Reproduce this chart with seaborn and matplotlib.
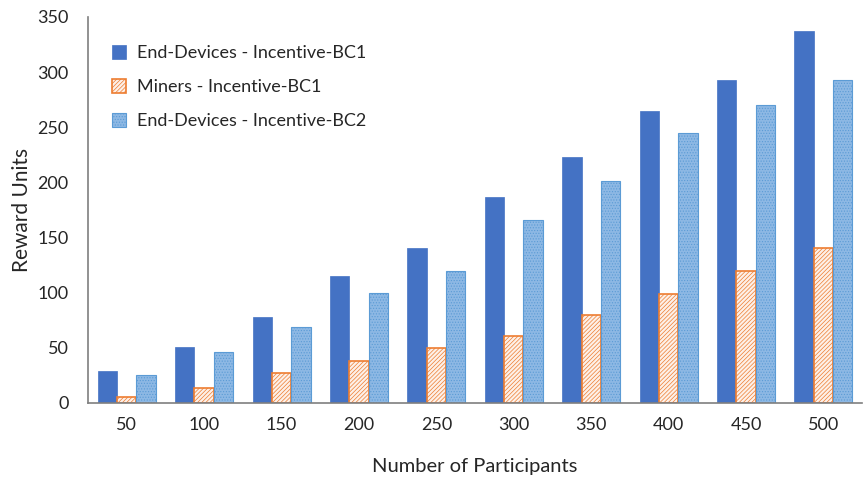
import matplotlib
matplotlib.use("Agg")
import matplotlib.pyplot as plt
import pandas as pd
import seaborn as sns

participants = [50, 100, 150, 200, 250, 300, 350, 400, 450, 500]
end_devices_bc1 = [29, 51, 78, 115, 140, 187, 223, 265, 293, 337]
miners_bc1 = [5, 13, 27, 38, 50, 61, 80, 99, 120, 140]
end_devices_bc2 = [25, 46, 69, 100, 120, 166, 201, 245, 270, 293]
series_names = ["End-Devices - Incentive-BC1", "Miners - Incentive-BC1",
                "End-Devices - Incentive-BC2"]

df = pd.DataFrame({
    "participants": participants * 3,
    "reward": end_devices_bc1 + miners_bc1 + end_devices_bc2,
    "series": [n for n in series_names for _ in participants],
})

sns.set_style("white")
plt.rcParams["font.family"] = ["Lato", "DejaVu Sans"]
plt.rcParams["hatch.linewidth"] = 0.5

fig = plt.figure(figsize=(8.63, 4.83), dpi=100)
ax = fig.add_axes([0.102, 0.166, 0.897, 0.799])

sns.barplot(data=df, x="participants", y="reward", hue="series",
            hue_order=series_names, width=0.75, gap=0, ax=ax,
            palette=["#4472C4", "#ED7D31", "#5B9BD5"])

# bar styles: solid, orange texture, dotted blue
styles = [
    dict(facecolor="#4472C4", edgecolor="#4472C4", hatch=None, lw=0.5),
    dict(facecolor="#FDF0E8", edgecolor="#ED7D31", hatch="////////", lw=1.2),
    dict(facecolor="#8DB8E4", edgecolor="#5B9BD5", hatch="......", lw=0.8),
]
for cont, st in zip(ax.containers, styles):
    for bar in cont:
        bar.set_facecolor(st["facecolor"])
        bar.set_edgecolor(st["edgecolor"])
        bar.set_hatch(st["hatch"])
        bar.set_linewidth(st["lw"])

ax.set_ylim(0, 350)
ax.set_yticks(range(0, 351, 50))
ax.set_xlim(-0.5, 9.5)
ax.set_xlabel("Number of Participants", fontsize=14.5, labelpad=18)
ax.set_ylabel("Reward Units", fontsize=15, labelpad=4)
ax.tick_params(axis="both", labelsize=13, length=0)
ax.tick_params(axis="x", pad=10)
ax.tick_params(axis="y", pad=14)

for side in ["top", "right"]:
    ax.spines[side].set_visible(False)
for side in ["left", "bottom"]:
    ax.spines[side].set_color("#7f7f7f")
    ax.spines[side].set_linewidth(1.2)

handles = [cont.patches[0] for cont in ax.containers]
ax.legend(handles, series_names, loc="upper left", frameon=False,
          fontsize=13, handlelength=0.8, handleheight=0.8,
          handletextpad=0.6, labelspacing=1.0,
          bbox_to_anchor=(0.01, 0.97))

fig.savefig("out.png", dpi=100)
